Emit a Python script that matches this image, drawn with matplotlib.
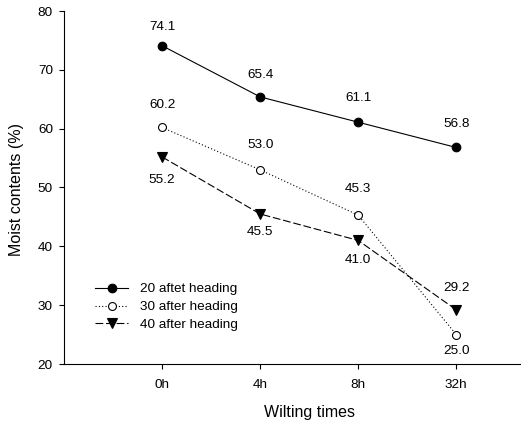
import matplotlib
matplotlib.use("Agg")
import matplotlib.pyplot as plt

plt.rcParams['font.family'] = ['Liberation Sans', 'DejaVu Sans']

categories = ["0h", "4h", "8h", "32h"]
series_names = ["20 aftet heading", "30 after heading", "40 after heading"]
s20 = [74.1, 65.4, 61.1, 56.8]
s30 = [60.2, 53.0, 45.3, 25.0]
s40 = [55.2, 45.5, 41.0, 29.2]

# label offsets in pixels (positive = above)
off20 = [19, 22, 24, 23]
off30 = [22, 25, 26, -16]
off40 = [-23, -18, -20, 22]

fig = plt.figure(figsize=(5.21, 4.23), dpi=100)
ax = fig.add_axes([64/521, 1-364/423, 1-64/521, (364-11)/423])

x = list(range(len(categories)))
styles = [
    dict(color='black', linestyle='-', marker='o', markersize=6.2, markerfacecolor='black', markeredgecolor='black'),
    dict(color='black', linestyle=(0, (1, 2)), marker='o', markersize=5.7, markerfacecolor='white', markeredgecolor='black'),
    dict(color='black', linestyle=(0, (7, 2.5)), marker='v', markersize=6.7, markerfacecolor='black', markeredgecolor='black'),
]
for vals, name, st, offs in zip([s20, s30, s40], series_names, styles, [off20, off30, off40]):
    ax.plot(x, vals, linewidth=0.8, label=name, markeredgewidth=0.8, **st)
    for xi, v, o in zip(x, vals, offs):
        ax.annotate(f"{v:.1f}", (xi, v), xytext=(0, o * 72 / 100), textcoords='offset points',
                    ha='center', va='center', fontsize=9.7)

ax.set_xlim(-1, 3.66)
ax.set_ylim(20, 80)
ax.set_xticks(x)
ax.set_xticklabels(categories)
ax.set_yticks([20, 30, 40, 50, 60, 70, 80])
ax.tick_params(axis='both', labelsize=9.7, length=3.5, width=0.8, direction='out')
ax.tick_params(axis='y', pad=4.5)
ax.tick_params(axis='x', pad=7.5)
for s in ['top', 'right']:
    ax.spines[s].set_visible(False)
for s in ['left', 'bottom']:
    ax.spines[s].set_linewidth(0.8)

fig.text(17/521, 1-190/423, "Moist contents (%)", rotation=90, ha='center', va='center', fontsize=11.5)
fig.text(310/521, 1-412/423, "Wilting times", ha='center', va='center', fontsize=11.5)

leg = ax.legend(loc='upper left', bbox_to_anchor=(95/521, 1-283/423), bbox_transform=fig.transFigure,
                frameon=False, fontsize=9.7, handlelength=2.45, handletextpad=0.9,
                labelspacing=0.4, borderpad=0, borderaxespad=0, numpoints=1)

fig.savefig("out.png", dpi=100)
